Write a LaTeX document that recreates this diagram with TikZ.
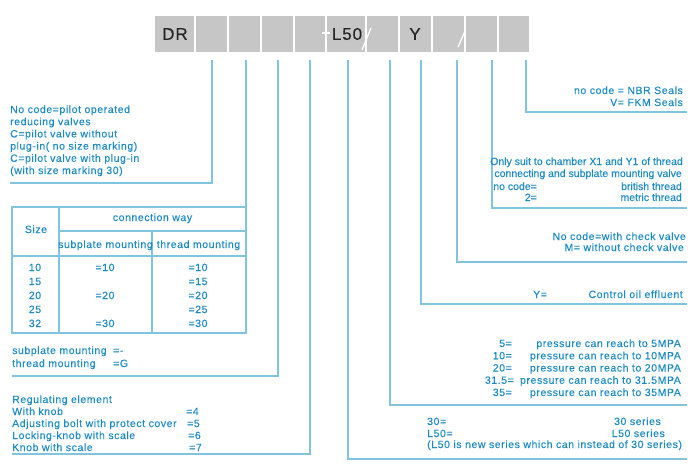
\documentclass[tikz,border=0pt]{standalone}
\usepackage{fontspec}
\setmainfont{Liberation Sans}[LetterSpace=5.5,FakeBold=0.35]
\newfontfamily\condfont{Liberation Sans}[LetterSpace=0,FakeBold=0.35]
\definecolor{txt}{RGB}{30,140,195}
\definecolor{ln}{RGB}{128,196,222}
\definecolor{boxg}{RGB}{198,198,198}
\begin{document}
\begin{tikzpicture}[x=1pt,y=-1pt,
  cell/.style={fill=boxg, draw=none, minimum height=36pt, inner sep=0pt},
  code/.style={text=black!85, inner sep=0pt, font=\fontsize{17}{17}\selectfont},
  lbl/.style={text=txt, inner sep=0pt, font=\fontsize{10.5}{12}\selectfont},
  clbl/.style={text=txt, inner sep=0pt, font=\condfont\fontsize{10.5}{12}\selectfont, anchor=base east},
  lw/.style={lbl, anchor=base west},
  le/.style={lbl, anchor=base east},
  lc/.style={lbl, anchor=base},
  conn/.style={draw=ln, line width=1.2pt},
  tab/.style={draw=ln, line width=1.2pt},
  wmark/.style={draw=white, line width=1.3pt}]
\useasboundingbox (0,0) rectangle (700,471);

% code boxes
\node[cell, minimum width=39pt] (b1) at (174.5,34) {};
\node[cell, minimum width=31pt] (b2) at (211.5,34) {};
\node[cell, minimum width=31pt] (b3) at (244.5,34) {};
\node[cell, minimum width=31pt] (b4) at (277.5,34) {};
\node[cell, minimum width=30pt] (b5) at (310,34) {};
\node[cell, minimum width=38pt] (b6) at (346,34) {};
\node[cell, minimum width=31pt] (b7) at (382.5,34) {};
\node[cell, minimum width=31pt] (b8) at (415.5,34) {};
\node[cell, minimum width=31pt] (b9) at (448.5,34) {};
\node[cell, minimum width=31pt] (b10) at (481.5,34) {};
\node[cell, minimum width=30pt] (b11) at (514,34) {};
\node[code] (tDR) at (175,34) {DR};
\node[code] (tL50) at (347,34) {L50};
\node[code] (tY) at (415,34) {Y};
\draw[wmark] (322,33) -- (330,33);
\draw[wmark] (362,50) -- (371,28);
\draw[wmark] (458,47) -- (465,31);

% connector start points
\coordinate (s1) at (212,60);
\coordinate (s2) at (246,60);
\coordinate (s3) at (278,60);
\coordinate (s4) at (310,60);
\coordinate (s5) at (348,60);
\coordinate (s6) at (390,60);
\coordinate (s7) at (421,60);
\coordinate (s8) at (457,60);
\coordinate (s9) at (492,60);
\coordinate (s10) at (526,60);
% connector ends
\coordinate (e1) at (10,183);
\coordinate (e2) at (246,207);
\coordinate (e3) at (12,376);
\coordinate (e4) at (12,454);
\coordinate (e5) at (687,459);
\coordinate (e6) at (687,405);
\coordinate (e7) at (687,304);
\coordinate (e8) at (687,262);
\coordinate (e9) at (687,208);
\coordinate (e10) at (687,112);

\draw[conn] (s1) |- (e1);
\draw[conn] (s2) -- (e2);
\draw[conn] (s3) |- (e3);
\draw[conn] (s4) |- (e4);
\draw[conn] (s5) |- (e5);
\draw[conn] (s6) |- (e6);
\draw[conn] (s7) |- (e7);
\draw[conn] (s8) |- (e8);
\draw[conn] (s9) |- (e9);
\draw[conn] (s10) |- (e10);

% left top block
\node[lw] (a1) at (10,113) {No code=pilot operated};
\node[lw] (a2) at (10,125.2) {reducing valves};
\node[lw] (a3) at (10,137.4) {C=pilot valve without};
\node[lw] (a4) at (10,149.6) {plug-in( no size marking)};
\node[lw] (a5) at (10,161.8) {C=pilot valve with plug-in};
\node[lw] (a6) at (10,174) {(with size marking 30)};

% table
\draw[tab] (12,207) rectangle (246,333);
\draw[tab] (59,207) -- (59,333);
\draw[tab] (152,231) -- (152,333);
\draw[tab] (59,231) -- (246,231);
\draw[tab] (12,256) -- (246,256);
\node[lc] (hsize) at (36,233) {Size};
\node[lc] (hconn) at (152.5,221) {connection way};
\node[lc] (hsub) at (105.5,248) {subplate mounting};
\node[lc] (hthr) at (198.5,248) {thread mounting};
\node[lc] (r1) at (35,271) {10};
\node[lc] (r2) at (35,285) {15};
\node[lc] (r3) at (35,299) {20};
\node[lc] (r4) at (35,313) {25};
\node[lc] (r5) at (35,327) {32};
\node[lc] (p1) at (105,271) {=10};
\node[lc] (p3) at (105,299) {=20};
\node[lc] (p5) at (105,327) {=30};
\node[lc] (q1) at (198,271) {=10};
\node[lc] (q2) at (198,285) {=15};
\node[lc] (q3) at (198,299) {=20};
\node[lc] (q4) at (198,313) {=25};
\node[lc] (q5) at (198,327) {=30};

% mounting
\node[lw] (m1) at (12,354) {subplate mounting};
\node[lw] (m1v) at (113,354) {=-};
\node[lw] (m2) at (12,367) {thread mounting};
\node[lw] (m2v) at (113,367) {=G};

% regulating element
\node[lw] (g0) at (12,403) {Regulating element};
\node[lw] (g1) at (12,415) {With knob};
\node[lw] (g1v) at (186,415) {=4};
\node[lw] (g2) at (12,427) {Adjusting bolt with protect cover};
\node[lw] (g2v) at (187,427) {=5};
\node[lw] (g3) at (12,439) {Locking-knob with scale};
\node[lw] (g3v) at (188,439) {=6};
\node[lw] (g4) at (12,451) {Knob with scale};
\node[lw] (g4v) at (189,451) {=7};

% seals
\node[le] (n1) at (683,94) {no code = NBR Seals};
\node[le] (n2) at (683,106) {V= FKM Seals};

% thread
\node[clbl] (h1) at (683,165) {Only suit to chamber X1 and Y1 of thread};
\node[clbl] (h2) at (682,177) {connecting and subplate mounting valve};
\node[clbl] (h3) at (537,190) {no code=};
\node[clbl] (h3v) at (682,190) {british thread};
\node[clbl] (h4) at (537,201) {2=};
\node[clbl] (h4v) at (682,201) {metric thread};

% check valve
\node[le] (k1) at (686,240) {No code=with check valve};
\node[le] (k2) at (684,251) {M= without check valve};

% control oil
\node[lw] (y1) at (533,298) {Y=};
\node[le] (y1v) at (683,298) {Control oil effluent};

% pressure
\node[le] (pr1) at (512,347) {5=};
\node[le] (pr1v) at (681,347) {pressure can reach to 5MPA};
\node[le] (pr2) at (512,359.25) {10=};
\node[le] (pr2v) at (681,359.25) {pressure can reach to 10MPA};
\node[le] (pr3) at (512,371.5) {20=};
\node[le] (pr3v) at (681,371.5) {pressure can reach to 20MPA};
\node[le] (pr4) at (514,383.75) {31.5=};
\node[le] (pr4v) at (681,383.75) {pressure can reach to 31.5MPA};
\node[le] (pr5) at (512,396) {35=};
\node[le] (pr5v) at (681,396) {pressure can reach to 35MPA};

% series
\node[lw] (sr1) at (427,425) {30=};
\node[le] (sr1v) at (661,425) {30 series};
\node[lw] (sr2) at (427,437) {L50=};
\node[le] (sr2v) at (665,437) {L50 series};
\node[lw] (sr3) at (427,448) {(L50 is new series which can instead of 30 series)};
\end{tikzpicture}
\end{document}
